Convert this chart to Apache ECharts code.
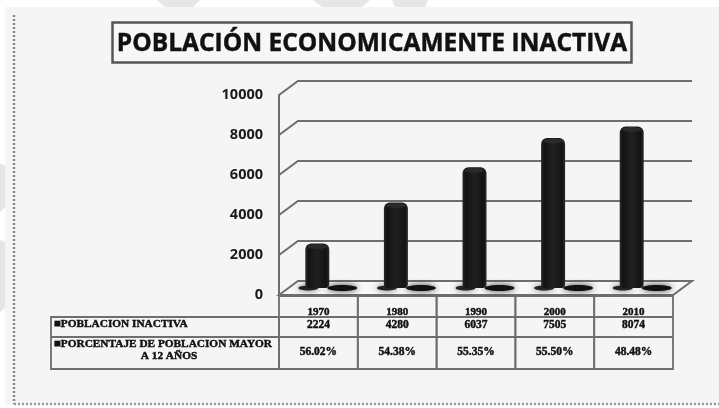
<!DOCTYPE html>
<html>
<head>
<meta charset="utf-8">
<style>
html,body{margin:0;padding:0;background:#fff;overflow:hidden}
#main{width:719px;height:408px;filter:blur(0.75px)}
</style>
<script src="https://cdn.jsdelivr.net/npm/echarts@6/dist/echarts.min.js"></script>
</head>
<body>
<div id="main"></div>
<script>
var titleText = 'POBLACIÓN ECONOMICAMENTE INACTIVA';
var years = ['1970', '1980', '1990', '2000', '2010'];
var inactive = [2224, 4280, 6037, 7505, 8074];
var percentLabels = ['56.02%', '54.38%', '55.35%', '55.50%', '48.48%'];
var yTicks = [0, 2000, 4000, 6000, 8000, 10000];
var rowLabelInactive = '■POBLACION INACTIVA';
var rowLabelPercent = ['■PORCENTAJE DE POBLACION MAYOR', 'A 12 AÑOS'];

var DEPTH_X = 19, DEPTH_Y = -14;
var LINE = '#6e6e6e';
var SERIF = '"Liberation Serif", serif';
var chart = echarts.init(document.getElementById('main'));

function trap(points, fill) {
  return { type: 'polygon', silent: true, z: -10, shape: { points: points }, style: { fill: fill } };
}
function heavy(extra) {
  return Object.assign({ fill: '#111', stroke: '#111', lineWidth: 0.45 }, extra);
}

var option = {
  animation: false,
  backgroundColor: '#fff',
  grid: [
    { left: 279, width: 394, top: 95, height: 200 },
    { left: 278, width: 393, top: 88, height: 200 }
  ],
  xAxis: [
    { type: 'category', gridIndex: 0, data: years,
      axisLine: { show: false }, axisTick: { show: false }, splitLine: { show: false },
      axisLabel: { margin: 12, color: '#111', fontFamily: SERIF, fontWeight: 'bold', fontSize: 11,
        textBorderColor: '#111', textBorderWidth: 0.45 } },
    { type: 'category', gridIndex: 1, data: years, show: false }
  ],
  yAxis: [
    { type: 'value', gridIndex: 0, min: 0, max: 10000, interval: 2000,
      axisLine: { show: true, lineStyle: { color: LINE, width: 2 } },
      axisTick: { show: false }, splitLine: { show: false },
      axisLabel: { margin: 16, color: '#1a1a1a', fontFamily: '"Open Sans", sans-serif', fontWeight: 'bold', fontSize: 14.5,
        formatter: function (v) { return String(v); } } },
    { type: 'value', gridIndex: 1, min: 0, max: 10000, show: false, splitLine: { show: false } }
  ],
  series: [
    { type: 'custom', name: 'wall', xAxisIndex: 0, yAxisIndex: 0, z: 1, silent: true,
      data: yTicks.map(function (t) { return [0, t]; }),
      renderItem: function (params, api) {
        var v = api.value(1);
        var p = api.coord([0, v]);
        var x0 = params.coordSys.x, x1 = x0 + params.coordSys.width;
        var y = p[1];
        var kids = [];
        if (v === 0) {
          kids.push({ type: 'polygon', shape: { points: [[x0, y], [x0 + DEPTH_X, y + DEPTH_Y], [x1 + DEPTH_X, y + DEPTH_Y], [x1, y]] },
            style: { fill: '#f8f8f8', stroke: LINE, lineWidth: 2 } });
        } else {
          kids.push({ type: 'polyline', shape: { points: [[x0, y], [x0 + DEPTH_X, y + DEPTH_Y], [x1 + DEPTH_X, y + DEPTH_Y]] },
            style: { fill: 'none', stroke: LINE, lineWidth: 2 } });
        }
        return { type: 'group', children: kids };
      }
    },
    { type: 'custom', name: 'table', xAxisIndex: 0, yAxisIndex: 0, z: 2, silent: true, clip: false,
      data: years.map(function (y, i) { return [i, 0]; }),
      renderItem: function (params, api) {
        var i = api.value(0);
        var c = api.coord([i, 0]);
        var w = api.size([1, 0])[0];
        var l = c[0] - w / 2, r = c[0] + w / 2, top = c[1] + 1;
        var s = { fill: 'none', stroke: LINE, lineWidth: 1.8 };
        var t = heavy({ font: 'bold 11.5px ' + SERIF, align: 'center', verticalAlign: 'middle' });
        return { type: 'group', children: [
          { type: 'rect', shape: { x: l, y: top, width: w, height: 73 }, style: s },
          { type: 'line', shape: { x1: l, y1: top + 21, x2: r, y2: top + 21 }, style: s },
          { type: 'line', shape: { x1: l, y1: top + 41, x2: r, y2: top + 41 }, style: s },
          { type: 'text', style: Object.assign({ x: c[0], y: top + 29, text: String(inactive[i]) }, t) },
          { type: 'text', style: Object.assign({ x: c[0], y: top + 56, text: percentLabels[i] }, t) }
        ] };
      }
    },
    { type: 'custom', name: 'shadows', xAxisIndex: 1, yAxisIndex: 1, z: 3, silent: true, clip: false,
      data: years.map(function (y, i) { return [i, 0]; }),
      renderItem: function (params, api) {
        var c = api.coord([api.value(0), 0]);
        return { type: 'group', children: [
          { type: 'ellipse', shape: { cx: c[0] + 25, cy: c[1], rx: 15, ry: 3 },
            style: { fill: '#111', shadowBlur: 6, shadowColor: 'rgba(0,0,0,0.8)' } },
          { type: 'ellipse', shape: { cx: c[0] - 9, cy: c[1], rx: 10, ry: 2.5 },
            style: { fill: '#222', shadowBlur: 6, shadowColor: 'rgba(0,0,0,0.6)' } }
        ] };
      }
    },
    { type: 'bar', name: 'POBLACION INACTIVA', xAxisIndex: 1, yAxisIndex: 1, z: 4, barWidth: 24, data: inactive,
      itemStyle: {
        borderRadius: [6, 6, 4, 4],
        color: new echarts.graphic.LinearGradient(0, 0, 1, 0, [
          { offset: 0, color: '#2c2c2c' },
          { offset: 0.12, color: '#131313' },
          { offset: 0.5, color: '#202020' },
          { offset: 0.88, color: '#131313' },
          { offset: 1, color: '#2c2c2c' }
        ])
      }
    },
    { type: 'custom', name: 'caps', xAxisIndex: 1, yAxisIndex: 1, z: 5, silent: true, clip: false,
      data: inactive.map(function (v, i) { return [i, v]; }),
      renderItem: function (params, api) {
        var c = api.coord([api.value(0), api.value(1)]);
        return { type: 'ellipse', shape: { cx: c[0], cy: c[1] + 3, rx: 10, ry: 2.5 }, style: { fill: '#2a2a2a' } };
      }
    }
  ],
  graphic: [
    { type: 'rect', silent: true, z: -9, shape: { x: 5, y: 7, width: 714, height: 398 }, style: { fill: '#f5f5f5' } },
    trap([[157, 0], [200, 0], [193, 7], [165, 7]], '#e6e6e6'),
    trap([[313, 0], [370, 0], [362, 7], [322, 7]], '#e6e6e6'),
    trap([[392, 0], [428, 0], [425, 7], [395, 7]], '#e6e6e6'),
    trap([[0, 163], [5, 166], [5, 208], [0, 212]], '#e6e6e6'),
    trap([[0, 240], [5, 242], [5, 308], [0, 312]], '#e6e6e6'),
    { type: 'line', silent: true, z: 1, shape: { x1: 14, y1: 15, x2: 14, y2: 404 },
      style: { stroke: '#888', lineWidth: 2.5, lineDash: [2, 2] } },
    { type: 'line', silent: true, z: 1, shape: { x1: 14, y1: 404, x2: 719, y2: 404 },
      style: { stroke: '#999', lineWidth: 2.5, lineDash: [2, 2] } },
    { type: 'rect', silent: true, z: 2, shape: { x: 112.5, y: 22.5, width: 519, height: 40 },
      style: { fill: '#f7f7f7', stroke: '#555', lineWidth: 2.5 } },
    { type: 'text', silent: true, z: 3, x: 372, y: 44,
      style: heavy({ text: titleText, font: 'bold 24.5px "Open Sans", sans-serif', align: 'center', verticalAlign: 'middle' }) },
    { type: 'rect', silent: true, z: 2, shape: { x: 51, y: 317, width: 228, height: 52 }, style: { fill: 'none', stroke: LINE, lineWidth: 1.8 } },
    { type: 'line', silent: true, z: 2, shape: { x1: 51, y1: 337, x2: 279, y2: 337 }, style: { stroke: LINE, lineWidth: 1.8 } },
    { type: 'text', silent: true, z: 3, x: 54, y: 324,
      style: heavy({ text: rowLabelInactive, font: 'bold 11.3px ' + SERIF, align: 'left', verticalAlign: 'middle' }) },
    { type: 'text', silent: true, z: 3, x: 54, y: 344,
      style: heavy({ text: rowLabelPercent[0], font: 'bold 11.3px ' + SERIF, align: 'left', verticalAlign: 'middle' }) },
    { type: 'text', silent: true, z: 3, x: 169, y: 356,
      style: heavy({ text: rowLabelPercent[1], font: 'bold 11.3px ' + SERIF, align: 'center', verticalAlign: 'middle' }) }
  ]
};
chart.setOption(option);
</script>
</body>
</html>
